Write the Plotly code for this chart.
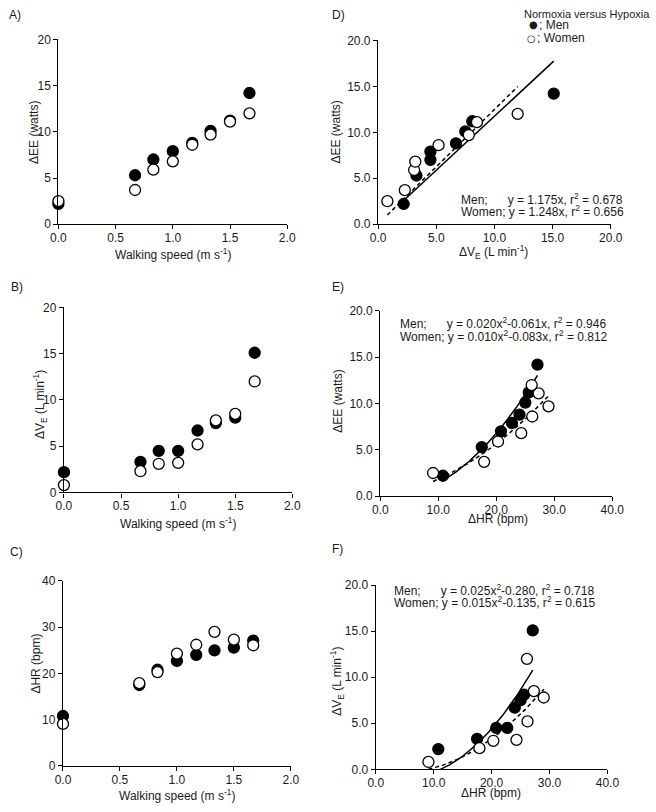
import numpy as np
import plotly.graph_objects as go

# ---------------- data ----------------
speed = [0.0, 0.67, 0.83, 1.0, 1.17, 1.33, 1.5, 1.67]
ee_men = [2.2, 5.3, 7.0, 7.9, 8.8, 10.1, 11.2, 14.2]
ee_women = [2.5, 3.7, 5.9, 6.8, 8.6, 9.7, 11.1, 12.0]
ve_men = [2.2, 3.3, 4.5, 4.5, 6.7, 7.5, 8.1, 15.1]
ve_women = [0.8, 2.3, 3.1, 3.2, 5.2, 7.8, 8.5, 12.0]
hr_men = [10.8, 17.5, 20.8, 22.7, 24.0, 25.0, 25.6, 27.1]
hr_women = [9.1, 17.9, 20.3, 24.3, 26.2, 29.0, 27.3, 26.1]

# fitted curves y = a*x^2 + b*x (as drawn)
fit_d_men = [0.0, 1.175]
fit_d_women = [0.0, 1.248]
fit_e_men = [0.020, -0.061]
fit_e_women = [0.010, 0.083]
fit_f_men = [0.025, -0.280]
fit_f_women = [0.015, -0.135]

eq_d = ["Men;\u00a0\u00a0\u00a0\u00a0\u00a0\u00a0y = 1.175x, r<sup>2</sup> = 0.678",
        "Women; y = 1.248x, r<sup>2</sup> = 0.656"]
eq_e = ["Men;\u00a0\u00a0\u00a0\u00a0\u00a0\u00a0y = 0.020x<sup>2</sup>-0.061x, r<sup>2</sup> = 0.946",
        "Women; y = 0.010x<sup>2</sup>-0.083x, r<sup>2</sup> = 0.812"]
eq_f = ["Men;\u00a0\u00a0\u00a0\u00a0\u00a0\u00a0y = 0.025x<sup>2</sup>-0.280, r<sup>2</sup> = 0.718",
        "Women; y = 0.015x<sup>2</sup>-0.135, r<sup>2</sup> = 0.615"]

W, H = 656, 812
FONT = "Liberation Sans, Arial, Helvetica, sans-serif"
TXT = "#1a1a1a"


def px_x(p):
    return p / W


def px_y(p):
    return 1 - p / H


fig = go.Figure()

# panel pixel boxes: (x0, x1, ytop, ybottom)
boxes = {
    1: (52, 288, 33, 221),      # A
    2: (381.7, 621.7, 34, 221),  # D
    3: (57.7, 293.3, 305.7, 494),  # B
    4: (384, 623.3, 309.3, 497.7),  # E
    5: (56.7, 291.7, 584, 772.3),  # C
    6: (379.3, 618.3, 588.3, 775.7),  # F
}

xranges = {1: [0, 2], 2: [0, 20], 3: [0, 2], 4: [0, 40], 5: [0, 2], 6: [0, 40]}
xdt = {1: 0.5, 2: 5, 3: 0.5, 4: 10, 5: 0.5, 6: 10}
yranges = {1: [0, 20], 2: [0, 20], 3: [0, 20], 4: [0, 20], 5: [0, 40], 6: [0, 20]}
ydt = {1: 5, 2: 5, 3: 5, 4: 5, 5: 10, 6: 5}
yfmt = {1: "d", 2: ".1f", 3: "d", 4: ".1f", 5: "d", 6: ".1f"}

layout_axes = {}
for i, (x0, x1, yt, yb) in boxes.items():
    sx = "" if i == 1 else str(i)
    common = dict(showgrid=False, zeroline=False, showline=True, linecolor="black",
                  linewidth=1.3, ticks="outside", ticklen=4, tickwidth=1, tickcolor="black",
                  tickfont=dict(family=FONT, size=12, color=TXT), fixedrange=True)
    layout_axes["xaxis" + sx] = dict(domain=[px_x(x0), px_x(x1)], range=xranges[i],
                                     dtick=xdt[i], tick0=0, tickformat=".1f",
                                     ticklabelstandoff=-2,
                                     anchor="y" + sx, **common)
    layout_axes["yaxis" + sx] = dict(domain=[px_y(yb), px_y(yt)], range=yranges[i],
                                     dtick=ydt[i], tick0=0, tickformat=yfmt[i],
                                     anchor="x" + sx, **common)


def add_points(xm, ym, xw, yw, ax):
    sx = "" if ax == 1 else str(ax)
    fig.add_trace(go.Scatter(x=xm, y=ym, mode="markers", xaxis="x" + sx, yaxis="y" + sx,
                             cliponaxis=False, showlegend=False, name="Men",
                             marker=dict(size=11, color="black",
                                         line=dict(color="black", width=1.3))))
    fig.add_trace(go.Scatter(x=xw, y=yw, mode="markers", xaxis="x" + sx, yaxis="y" + sx,
                             cliponaxis=False, showlegend=False, name="Women",
                             marker=dict(size=11, color="white",
                                         line=dict(color="black", width=1.3))))


def add_fit(coef, xs, ax, dash):
    sx = "" if ax == 1 else str(ax)
    xx = np.linspace(min(xs), max(xs), 80)
    yy = coef[0] * xx ** 2 + coef[1] * xx
    fig.add_trace(go.Scatter(x=xx, y=yy, mode="lines", xaxis="x" + sx, yaxis="y" + sx,
                             showlegend=False, hoverinfo="skip",
                             line=dict(color="black", width=1.5, dash=dash)))


# A: EE vs speed
add_points(speed, ee_men, speed, ee_women, 1)
# D: EE vs VE
add_fit(fit_d_men, ve_men, 2, "solid")
add_fit(fit_d_women, ve_women, 2, "4px,3px")
add_points(ve_men, ee_men, ve_women, ee_women, 2)
# B: VE vs speed
add_points(speed, ve_men, speed, ve_women, 3)
# E: EE vs HR
add_fit(fit_e_men, hr_men, 4, "solid")
add_fit(fit_e_women, hr_women, 4, "4px,3px")
add_points(hr_men, ee_men, hr_women, ee_women, 4)
# C: HR vs speed
add_points(speed, hr_men, speed, hr_women, 5)
# F: VE vs HR
add_fit(fit_f_men, hr_men, 6, "solid")
add_fit(fit_f_women, hr_women, 6, "4px,3px")
add_points(hr_men, ve_men, hr_women, ve_women, 6)

ann = []


def text(t, x, y, xanchor="center", yanchor="middle", angle=0, size=12, family=FONT):
    ann.append(dict(text=t, x=px_x(x), y=px_y(y), xref="paper", yref="paper",
                    xanchor=xanchor, yanchor=yanchor, textangle=angle, showarrow=False,
                    borderpad=0,
                    font=dict(family=family, size=size, color=TXT)))


# panel letters
text("A)", 0, 8, "left")
text("D)", 333, 8, "left")
text("B)", 2, 285, "left")
text("E)", 333, 285, "left")
text("C)", 1, 555, "left")
text("F)", 333, 552, "left")

# axis titles
ws = "Walking speed (m s<sup>-1</sup>)"
ve_t = "\u0394V<sub>E</sub> (L min<sup>-1</sup>)"
ee_t = "\u0394EE (watts)"
hr_t = "\u0394HR (bpm)"
text(ws, 170, 251)
text(ee_t, 27, 128, angle=-90)
text(ve_t, 501, 249)
text(ee_t, 338, 127, angle=-90)
text(ws, 175, 525)
text(ve_t, 33, 404, angle=-90)
text(hr_t, 505, 521)
text(ee_t, 340, 401, angle=-90)
text(ws, 174, 802)
text(hr_t, 498, 800)
text(hr_t, 29, 668, angle=-90)
text(ve_t, 340, 686, angle=-90)

# equations
text(eq_d[0], 466, 195, "left")
text(eq_d[1], 466, 207.5, "left")
text(eq_e[0], 403, 322, "left")
text(eq_e[1], 403, 334.5, "left")
text(eq_f[0], 397, 593, "left")
text(eq_f[1], 397, 605.5, "left")

# legend
text("Normoxia versus Hypoxia", 531, 7, "left", size=11)
text("\u25cf", 542.5, 17.5, size=10, family="DejaVu Sans")
text("; Men", 547, 18, "left")
text("\u25cb", 540, 32.5, size=10, family="DejaVu Sans")
text("; Women", 544.5, 32, "left")

fig.update_layout(width=W, height=H, margin=dict(l=0, r=0, t=0, b=0),
                  paper_bgcolor="white", plot_bgcolor="white",
                  annotations=ann, showlegend=False, **layout_axes)

fig.write_html("out.html", config={"displayModeBar": False},
               post_script="document.body.style.margin='0';document.body.style.overflow='hidden';")
